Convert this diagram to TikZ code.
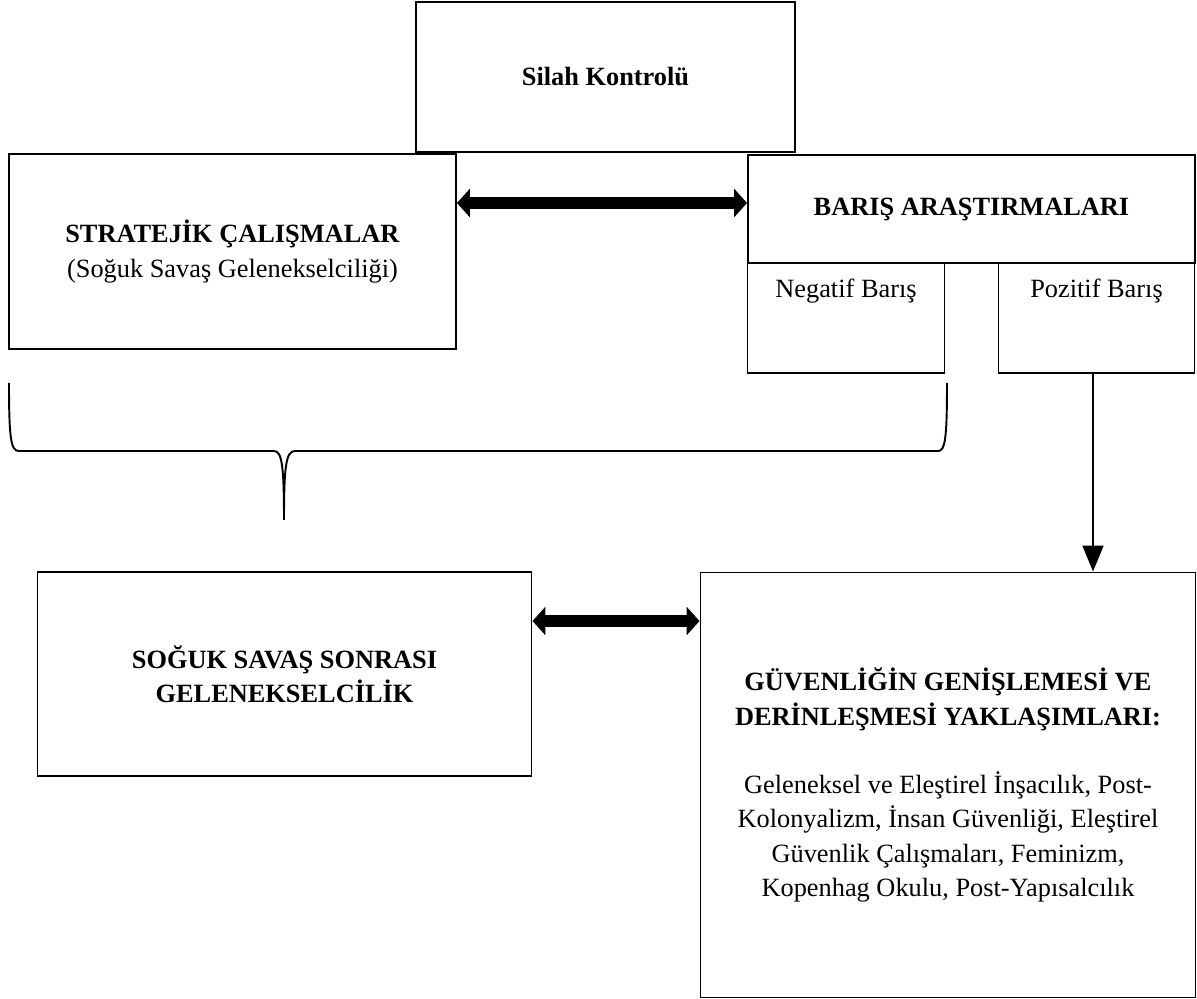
\documentclass[tikz,border=0pt]{standalone}
\usepackage{fontspec}
\setmainfont{Liberation Serif}
\usetikzlibrary{arrows.meta}
\begin{document}
\begin{tikzpicture}[x=0.02cm,y=-0.02cm,
  txt/.style={font=\fontsize{15pt}{19.5pt}\selectfont, align=center, inner sep=0pt},
  ttl/.style={txt, font=\fontsize{15pt}{19.5pt}\selectfont\bfseries},
  frame/.style={draw, rectangle, inner sep=0pt, line width=0.6pt},
  thickframe/.style={frame, line width=1.1pt},
  dbl/.style={line width=0.24cm, {Triangle[length=0.26cm,width=0.56cm]}-{Triangle[length=0.26cm,width=0.56cm]}},
  down/.style={line width=1.1pt, -{Triangle[length=0.52cm,width=0.42cm]}},
  bracket/.style={line width=1.1pt}]
  \useasboundingbox (0,0) rectangle (1197,999);

  \node[thickframe, minimum width=7.58cm, minimum height=3cm] (silah) at (605.5,77) {};
  \node[ttl] (silahlbl) at (silah.center) {Silah Kontrolü};

  \node[thickframe, minimum width=8.94cm, minimum height=3.9cm] (strat) at (232.5,251.5) {};
  \node[txt] (stratlbl) at (strat.center) {\textbf{STRATEJİK ÇALIŞMALAR}\\(Soğuk Savaş Gelenekselciliği)};

  \node[thickframe, minimum width=8.94cm, minimum height=2.16cm] (baris) at (971.5,209) {};
  \node[ttl] (barislbl) at (baris.center) {BARIŞ ARAŞTIRMALARI};

  \foreach \nm/\cx/\lbl in {neg/846/Negatif Barış, poz/1096.5/Pozitif Barış} {
    \node[frame, minimum width=3.93cm, minimum height=2.2cm] (\nm) at (\cx,318) {};
    \node[txt] (\nm lbl) at ([yshift=-0.58cm]\nm.north) {\lbl};
  }

  \draw[bracket] (9,383) .. controls (9,440) and (11,451) .. (19,451) -- (274,451)
    .. controls (282,451) and (284,466) .. (284,520);
  \draw[bracket] (284,520) .. controls (284,466) and (286,451) .. (295,451) -- (938,451)
    .. controls (945,451) and (947,440) .. (947,383);

  \node[frame, minimum width=9.9cm, minimum height=4.08cm] (sss) at (284.5,674) {};
  \node[ttl] (ssslbl) at (sss.center) {SOĞUK SAVAŞ SONRASI\\GELENEKSELCİLİK};

  \node[frame, minimum width=9.92cm, minimum height=8.52cm] (gen) at (948,785) {};
  \node[txt] (genlbl) at (gen.center) {\textbf{GÜVENLİĞİN GENİŞLEMESİ VE}\\
    \textbf{DERİNLEŞMESİ YAKLAŞIMLARI:}\\[19.5pt]
    Geleneksel ve Eleştirel İnşacılık, Post-\\
    Kolonyalizm, İnsan Güvenliği, Eleştirel\\
    Güvenlik Çalışmaları, Feminizm,\\
    Kopenhag Okulu, Post-Yapısalcılık};

  \draw[dbl] ([yshift=0.12cm]baris.west -| strat.east) -- ([yshift=0.12cm]baris.west);
  \draw[dbl] ([yshift=1.06cm]sss.east) -- ([yshift=1.06cm]sss.east -| gen.west);
  \draw[down] ([xshift=-0.07cm]poz.south) -- ([xshift=-0.07cm]poz.south |- gen.north);
\end{tikzpicture}
\end{document}
